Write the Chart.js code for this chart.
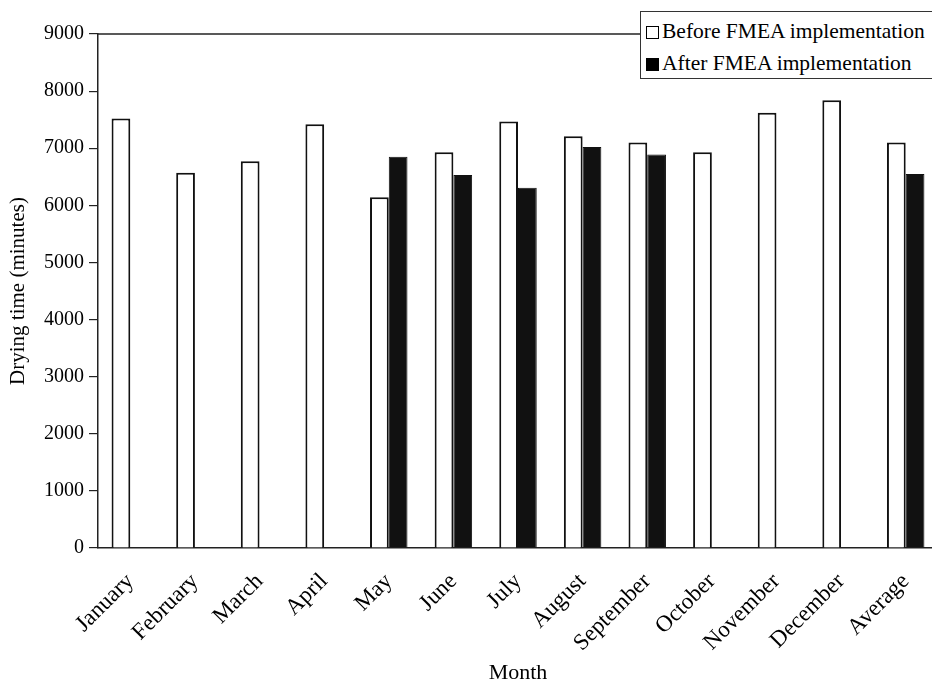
<!DOCTYPE html>
<html>
<head>
<meta charset="utf-8">
<script src="https://cdn.jsdelivr.net/npm/chart.js@4.4.1/dist/chart.umd.min.js"></script>
<style>
  html, body { margin: 0; padding: 0; background: #fff; overflow: hidden; width: 932px; height: 688px; }
  #wrap { position: relative; width: 938px; height: 688px; }
  #legend { position: absolute; left: 640px; top: 11px; width: 300px; height: 68px;
    border: 1.5px solid #333; box-sizing: border-box; background: #fff;
    font-family: "Liberation Serif", "DejaVu Serif", serif; font-size: 21.5px; color: #000; }
  .item { position: absolute; left: 5px; height: 24px; line-height: 24px; white-space: nowrap; }
  .sw { display: inline-block; width: 13px; height: 13px; box-sizing: border-box; border: 1.5px solid #000; margin-right: 3px; vertical-align: -1px; }
</style>
</head>
<body>
<div id="wrap">
  <canvas id="c" width="938" height="688"></canvas>
  <div id="legend"></div>
</div>
<script>
const categories = ["January", "February", "March", "April", "May", "June", "July", "August", "September", "October", "November", "December", "Average"];
const seriesNames = ["Before FMEA implementation", "After FMEA implementation"];
const beforeValues = [7520, 6570, 6770, 7420, 6140, 6930, 7470, 7210, 7100, 6930, 7620, 7840, 7100];
const afterValues = [null, null, null, null, 6850, 6530, 6310, 7020, 6890, null, null, null, 6550];
const yTicks = [0, 1000, 2000, 3000, 4000, 5000, 6000, 7000, 8000, 9000];
const xTitle = "Month";
const yTitle = "Drying time (minutes)";

const serif = "'Liberation Serif', 'DejaVu Serif', serif";

// HTML legend
const legend = document.getElementById('legend');
const swFill = ['#fff', '#000'];
seriesNames.forEach((name, i) => {
  const d = document.createElement('div');
  d.className = 'item';
  d.style.top = (i === 0 ? 7 : 39) + 'px';
  const s = document.createElement('span');
  s.className = 'sw';
  s.style.background = swFill[i];
  d.appendChild(s);
  d.appendChild(document.createTextNode(name));
  legend.appendChild(d);
});

const topBorder = {
  id: 'topBorder',
  afterDatasetsDraw(chart) {
    const { ctx, chartArea } = chart;
    ctx.save();
    ctx.strokeStyle = '#222';
    ctx.lineWidth = 1.5;
    ctx.beginPath();
    ctx.moveTo(chartArea.left, chartArea.top);
    ctx.lineTo(chartArea.right, chartArea.top);
    ctx.stroke();
    ctx.restore();
  }
};

new Chart(document.getElementById('c'), {
  type: 'bar',
  data: {
    labels: categories,
    datasets: [
      { label: seriesNames[0], data: beforeValues, backgroundColor: '#fff', borderColor: '#111', borderWidth: 2 },
      { label: seriesNames[1], data: afterValues, backgroundColor: '#111', borderColor: '#111', borderWidth: 1 }
    ]
  },
  options: {
    responsive: false,
    animation: false,
    categoryPercentage: 0.58,
    barPercentage: 1.0,
    layout: { padding: { top: 34, left: 0, right: 0, bottom: 0 } },
    plugins: { legend: { display: false }, tooltip: { enabled: false } },
    scales: {
      x: {
        afterFit(scale) { scale.height = 140; },
        grid: { display: false },
        border: { display: true, color: '#222', width: 1.5 },
        ticks: {
          autoSkip: false, maxRotation: 45, minRotation: 45, padding: 12,
          color: '#000', font: { family: serif, size: 23 }
        },
        title: { display: true, text: xTitle, color: '#000', font: { family: serif, size: 22 }, padding: { top: 0, bottom: 2 } }
      },
      y: {
        min: 0, max: 9000,
        afterFit(scale) { scale.width = 98; },
        afterBuildTicks(scale) { scale.ticks = yTicks.map(v => ({ value: v })); },
        grid: { drawOnChartArea: false, drawTicks: true, tickLength: 9, color: '#222', lineWidth: 1.2 },
        border: { display: true, color: '#222', width: 1.5 },
        ticks: { padding: 5, color: '#000', font: { family: serif, size: 20 }, callback: v => String(v) },
        title: { display: true, text: yTitle, color: '#000', font: { family: serif, size: 21 }, padding: { top: 6, bottom: 0 } }
      }
    }
  },
  plugins: [topBorder]
});
</script>
</body>
</html>
